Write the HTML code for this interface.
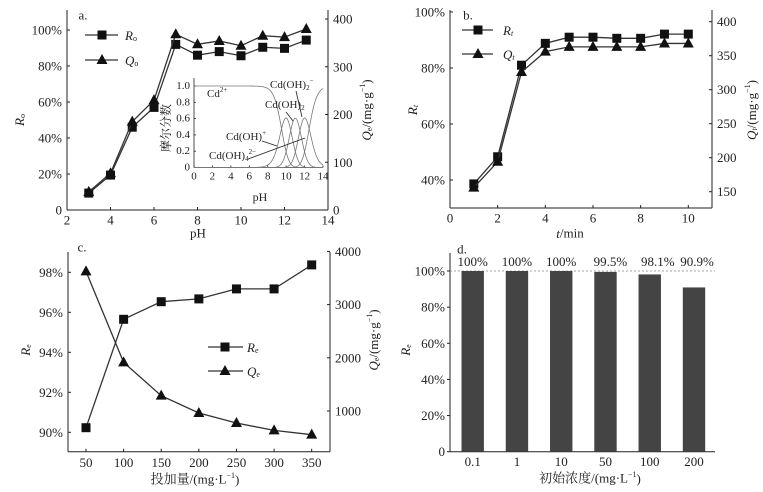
<!DOCTYPE html>
<html><head><meta charset="utf-8">
<style>
html,body{margin:0;padding:0;background:#fff;}
svg{display:block;font-family:"Liberation Serif","Noto Serif CJK SC","Noto Sans CJK SC",serif;}
</style></head>
<body>
<svg id="fig" width="763" height="492" viewBox="0 0 763 492" xmlns="http://www.w3.org/2000/svg"></svg>
<script>
// ---- Panel a data ----
const phA = [3,4,5,6,7,8,9,10,11,12,13];
const rA = [9.4,19.4,46,57,92,86,88,85.7,90.4,89.8,94.4];
const qA = [38,77,185,230,368,347,354,344,365,362,379];
const ticksAx = [2,4,6,8,10,12,14];
const ticksAyL = [0,20,40,60,80,100];
const ticksAyR = [0,100,200,300,400];
// inset speciation: stepwise pK values for Cd hydroxo complexes
const insetPK = [9.5,10.5,11.5,12.5];
const insetTicksX = [0,2,4,6,8,10,12,14];
const insetTicksY = [0,0.2,0.4,0.6,0.8,1.0];
// ---- Panel b data ----
const tB = [1,2,3,4,5,6,7,8,9,10];
const rB = [38.6,48.3,81,88.8,91,91,90.6,90.6,92.1,92.1];
const qB = [156,194,326,356,363,363,363,363,368,368];
const ticksBx = [0,2,4,6,8,10];
const ticksByL = [40,60,80,100];
const ticksByR = [150,200,250,300,350,400];
// ---- Panel c data ----
const doseC = [50,100,150,200,250,300,350];
const rC = [90.23,95.65,96.53,96.67,97.17,97.17,98.37];
const qC = [3624,1914,1288,962,774,635,555];
const ticksCx = [50,100,150,200,250,300,350];
const ticksCyL = [90,92,94,96,98];
const ticksCyR = [1000,2000,3000,4000];
// ---- Panel d data ----
const catD = ['0.1','1','10','50','100','200'];
const valD = [100,100,100,99.5,98.1,90.9];
const lblD = ['100%','100%','100%','99.5%','98.1%','90.9%'];
const ticksDy = [0,20,40,60,80,100];

const NS='http://www.w3.org/2000/svg';
const svg=document.getElementById('fig');
function mk(tag,attrs,name,parent){
  const el=document.createElementNS(NS,tag);
  for(const k in attrs) el.setAttribute(k,attrs[k]);
  
  
  (parent||svg).appendChild(el);
  return el;
}
function txt(x,y,s,name,opt){
  opt=opt||{};
  const t=mk('text',{x:x,y:y,'font-size':opt.fs||13,'text-anchor':opt.anchor||'middle','dominant-baseline':'central',fill:'#222'},name);
  if(opt.rot) t.setAttribute('transform','rotate('+opt.rot+' '+x+' '+y+')');
  if(opt.html) t.innerHTML=s; else t.textContent=s;
  return t;
}
function lin(x1,y1,x2,y2,name,sw,col,dash){
  const a={x1:x1,y1:y1,x2:x2,y2:y2,stroke:col||'#222','stroke-width':sw||1};
  if(dash) a['stroke-dasharray']=dash;
  return mk('line',a,name);
}
function sq(x,y,name){return mk('rect',{x:x-4.5,y:y-4.5,width:9,height:9,fill:'#111'},name);}
function tri(x,y,name){return mk('path',{d:'M'+x+' '+(y-6)+'L'+(x+5.5)+' '+(y+4)+'L'+(x-5.5)+' '+(y+4)+'Z',fill:'#111'},name);}
function series(xs,ys,sx,sy,name,marker){
  const pts=xs.map((v,i)=>sx(v)+','+sy(ys[i])).join(' ');
  mk('polyline',{points:pts,fill:'none',stroke:'#333','stroke-width':1.3},name+'-line');
  xs.forEach((v,i)=>marker(sx(v),sy(ys[i]),name+'-point'));
}
function frame(x0,x1,y0,y1,right,p){
  lin(x0,y0,x0,y1,p+'-left-axis');
  lin(x0,y1,x1,y1,p+'-bottom-axis');
  if(right) lin(x1,y0,x1,y1,p+'-right-axis');
}

// ================= Panel a =================
(function(){
  const X0=67,X1=328,Y0=10,Y1=210;
  const sx=v=>X0+(v-2)/12*(X1-X0);
  const syL=v=>210-v/100*180;
  const syR=v=>210-v/400*191;
  frame(X0,X1,Y0,Y1,true,'panel-a');
  ticksAx.forEach(t=>{lin(sx(t),Y1,sx(t),Y1-3,'a-x-tick');txt(sx(t),Y1+10,String(t),'a-x-tick-label');});
  ticksAyL.forEach(t=>{lin(X0,syL(t),X0+3,syL(t),'a-yl-tick');txt(X0-5,syL(t),t===0?'0':t+'%','a-yl-tick-label',{anchor:'end'});});
  ticksAyR.forEach(t=>{lin(X1,syR(t),X1-3,syR(t),'a-yr-tick');txt(X1+5,syR(t),String(t),'a-yr-tick-label',{anchor:'start'});});
  txt(198,233,'pH','a-x-axis-title');
  txt(19,120,'<tspan font-style="italic">R</tspan><tspan font-size="8" dy="3">o</tspan>','a-y-left-title',{rot:-90,html:1});
  txt(366,110,'<tspan font-style="italic">Q</tspan><tspan font-size="8" dy="3">e</tspan><tspan dy="-3">/(mg·g</tspan><tspan font-size="8" dy="-4">−1</tspan><tspan dy="4">)</tspan>','a-y-right-title',{rot:-90,html:1});
  txt(83,15,'a.','a-panel-label');
  series(phA,rA,sx,syL,'a-ro',sq);
  series(phA,qA,sx,syR,'a-qe',tri);
  lin(85,35,118,35,'a-legend-ro-line',1.3,'#333');sq(102,35,'a-legend-ro-marker');
  txt(125,35,'<tspan font-style="italic">R</tspan><tspan font-size="8" dy="3">o</tspan>','a-legend-ro-label',{anchor:'start',html:1});
  lin(85,60,118,60,'a-legend-qe-line',1.3,'#333');tri(102,60,'a-legend-qe-marker');
  txt(125,60,'<tspan font-style="italic">Q</tspan><tspan font-size="8" dy="3">o</tspan>','a-legend-qe-label',{anchor:'start',html:1});
  // inset
  const IX0=194,IX1=323,IY0=78,IY1=167.5;
  const ix=v=>IX0+v/14*(IX1-IX0);
  const iy=v=>IY1-v*(IY1-86);
  lin(IX0,IY0,IX0,IY1,'inset-left-axis',0.8);
  lin(IX0,IY1,IX1,IY1,'inset-bottom-axis',0.8);
  insetTicksX.forEach(t=>{lin(ix(t),IY1,ix(t),IY1-2,'inset-x-tick',0.8);txt(ix(t),IY1+9,String(t),'inset-x-tick-label',{fs:11});});
  insetTicksY.forEach(t=>{lin(IX0,iy(t),IX0+2,iy(t),'inset-y-tick',0.8);txt(IX0-4,iy(t),t===0?'0':t.toFixed(1),'inset-y-tick-label',{anchor:'end',fs:11});});
  txt(260,197,'pH','inset-x-title',{fs:12});
  txt(166,128,'摩尔分数','inset-y-title',{rot:-90,fs:12});
  const nS=insetPK.length+1;
  const curves=[];for(let k=0;k<nS;k++)curves.push([]);
  for(let p=0;p<=14.001;p+=0.1){
    const lg=[0];let acc=0;
    insetPK.forEach(pk=>{acc+=p-pk;lg.push(acc);});
    const e=lg.map(v=>Math.pow(10,v));const s=e.reduce((a,b)=>a+b,0);
    e.forEach((v,k)=>curves[k].push(ix(p)+','+iy(v/s)));
  }
  curves.forEach((c,k)=>mk('polyline',{points:c.join(' '),fill:'none',stroke:'#777','stroke-width':0.8},'inset-species-curve-'+k));
  txt(207,94,'Cd<tspan font-size="7" dy="-4">2+</tspan>','inset-label-cd2',{anchor:'start',fs:11,html:1});
  txt(270,85,'Cd(OH)<tspan font-size="7" dy="3">2</tspan><tspan font-size="7" dy="-7">−</tspan>','inset-label-cdoh3',{anchor:'start',fs:11,html:1});
  txt(265,105,'Cd(OH)<tspan font-size="7" dy="3">2</tspan>','inset-label-cdoh2',{anchor:'start',fs:11,html:1});
  txt(226,137,'Cd(OH)<tspan font-size="7" dy="-4">+</tspan>','inset-label-cdoh',{anchor:'start',fs:11,html:1});
  txt(209,156,'Cd(OH)<tspan font-size="7" dy="3">4</tspan><tspan font-size="7" dy="-7">2−</tspan>','inset-label-cdoh4',{anchor:'start',fs:11,html:1});
  lin(286,112,293,121,'inset-arrow',0.8);
  lin(296,91,302,117,'inset-arrow',0.8);
  lin(262,141,277,146,'inset-arrow',0.8);
  lin(248,159,305,138,'inset-arrow',0.8);
})();

// ================= Panel b =================
(function(){
  const X0=450,X1=712,Y0=10,Y1=208;
  const sx=v=>X0+v/10*(688.3-X0);
  const syL=v=>180-(v-40)/20*56;
  const syR=v=>191.7-(v-150)/50*34;
  frame(X0,X1,Y0,Y1,true,'panel-b');
  ticksBx.forEach(t=>{lin(sx(t),Y1,sx(t),Y1-3,'b-x-tick');txt(sx(t),Y1+10,String(t),'b-x-tick-label');});
  ticksByL.forEach(t=>{lin(X0,syL(t),X0+3,syL(t),'b-yl-tick');txt(X0-5,syL(t),t+'%','b-yl-tick-label',{anchor:'end'});});
  ticksByR.forEach(t=>{lin(X1,syR(t),X1-3,syR(t),'b-yr-tick');txt(X1+5,syR(t),String(t),'b-yr-tick-label',{anchor:'start'});});
  txt(570,233,'<tspan font-style="italic">t</tspan>/min','b-x-axis-title',{html:1});
  txt(412,110,'<tspan font-style="italic">R</tspan><tspan font-size="8" dy="3" font-style="italic">t</tspan>','b-y-left-title',{rot:-90,html:1});
  txt(751,110,'<tspan font-style="italic">Q</tspan><tspan font-size="8" dy="3" font-style="italic">t</tspan><tspan dy="-3">/(mg·g</tspan><tspan font-size="8" dy="-4">−1</tspan><tspan dy="4">)</tspan>','b-y-right-title',{rot:-90,html:1});
  txt(468,15,'b.','b-panel-label');
  series(tB,rB,sx,syL,'b-rt',sq);
  series(tB,qB,sx,syR,'b-qt',tri);
  lin(462,30,493,30,'b-legend-rt-line',1.3,'#333');sq(478,30,'b-legend-rt-marker');
  txt(503,30,'<tspan font-style="italic">R</tspan><tspan font-size="8" dy="3" font-style="italic">t</tspan>','b-legend-rt-label',{anchor:'start',html:1});
  lin(462,54,493,54,'b-legend-qt-line',1.3,'#333');tri(478,54,'b-legend-qt-marker');
  txt(503,54,'<tspan font-style="italic">Q</tspan><tspan font-size="8" dy="3" font-style="italic">t</tspan>','b-legend-qt-label',{anchor:'start',html:1});
})();

// ================= Panel c =================
(function(){
  const X0=68,X1=330,Y0=252,Y1=451.7;
  const sx=v=>86+(v-50)/300*(311.7-86);
  const syL=v=>432.3-(v-90)/2*40;
  const syR=v=>411-(v-1000)/1000*53.2;
  frame(X0,X1,Y0,Y1,true,'panel-c');
  ticksCx.forEach(t=>{lin(sx(t),Y1,sx(t),Y1-3,'c-x-tick');txt(sx(t),Y1+11,String(t),'c-x-tick-label');});
  ticksCyL.forEach(t=>{lin(X0,syL(t),X0+3,syL(t),'c-yl-tick');txt(X0-5,syL(t),t+'%','c-yl-tick-label',{anchor:'end'});});
  ticksCyR.forEach(t=>{lin(X1,syR(t),X1-3,syR(t),'c-yr-tick');txt(X1+5,syR(t),String(t),'c-yr-tick-label',{anchor:'start'});});
  txt(195,479,'投加量/(mg·L<tspan font-size="8" dy="-4">−1</tspan><tspan dy="4">)</tspan>','c-x-axis-title',{html:1});
  txt(25,350,'<tspan font-style="italic">R</tspan><tspan font-size="8" dy="3">e</tspan>','c-y-left-title',{rot:-90,html:1});
  txt(373,340,'<tspan font-style="italic">Q</tspan><tspan font-size="8" dy="3">e</tspan><tspan dy="-3">/(mg·g</tspan><tspan font-size="8" dy="-4">−1</tspan><tspan dy="4">)</tspan>','c-y-right-title',{rot:-90,html:1});
  txt(82,247,'c.','c-panel-label');
  series(doseC,rC,sx,syL,'c-re',sq);
  series(doseC,qC,sx,syR,'c-qe',tri);
  lin(208,347,243,347,'c-legend-re-line',1.3,'#333');sq(225,347,'c-legend-re-marker');
  txt(247,347,'<tspan font-style="italic">R</tspan><tspan font-size="8" dy="3">e</tspan>','c-legend-re-label',{anchor:'start',html:1});
  lin(208,371,243,371,'c-legend-qe-line',1.3,'#333');tri(225,371,'c-legend-qe-marker');
  txt(247,371,'<tspan font-style="italic">Q</tspan><tspan font-size="8" dy="3">e</tspan>','c-legend-qe-label',{anchor:'start',html:1});
})();

// ================= Panel d =================
(function(){
  const X0=450,X1=715,Y0=253,Y1=451.7;
  const sy=v=>Y1-v/100*(Y1-271);
  const cx=i=>472.7+i*44.26;
  const lblOff=[0,0,0,5,8,3];
  lin(X0,Y0,X0,Y1,'d-left-axis');
  lin(X0,Y1,X1,Y1,'d-bottom-axis');
  lin(X0,sy(100),X1,sy(100),'d-reference-line-100',0.8,'#888','2,2');
  ticksDy.forEach(t=>{lin(X0,sy(t),X0-3,sy(t),'d-y-tick');txt(X0-5,sy(t),t===0?'0':t+'%','d-y-tick-label',{anchor:'end'});});
  catD.forEach((c,i)=>{
    mk('rect',{x:cx(i)-11.2,y:sy(valD[i]),width:22.4,height:Y1-sy(valD[i]),fill:'#444'},'d-bar-'+c);
    txt(cx(i),Y1+10,c,'d-x-tick-label');
    txt(cx(i)+lblOff[i],261.5,lblD[i],'d-bar-value-label');
  });
  txt(590,478,'初始浓度/(mg·L<tspan font-size="8" dy="-4">−1</tspan><tspan dy="4">)</tspan>','d-x-axis-title',{html:1});
  txt(405,350,'<tspan font-style="italic">R</tspan><tspan font-size="8" dy="3">e</tspan>','d-y-title',{rot:-90,html:1});
  txt(462,249,'d.','d-panel-label');
})();
</script>
</body></html>
